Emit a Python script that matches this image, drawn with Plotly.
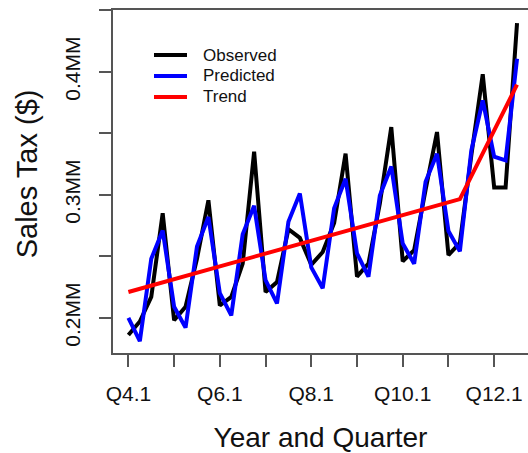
import plotly.graph_objects as go

# Quarterly periods, Q4.1 .. Q12.3
quarters = [f"Q{y}.{q}" for y in range(4, 13) for q in range(1, 5)][:35]

# Sales tax, in millions of dollars
observed = [0.186, 0.197, 0.217, 0.285, 0.198, 0.209, 0.248, 0.2955,
            0.210, 0.217, 0.244, 0.335, 0.221, 0.229, 0.272, 0.265,
            0.243, 0.2535, 0.277, 0.3335, 0.2335, 0.244, 0.293, 0.355,
            0.246, 0.255, 0.304, 0.351, 0.251, 0.261, 0.332, 0.398,
            0.306, 0.306, 0.4395]
predicted = [0.200, 0.181, 0.248, 0.271, 0.209, 0.192, 0.258, 0.282,
             0.220, 0.202, 0.268, 0.291, 0.2306, 0.2117, 0.278, 0.301,
             0.241, 0.224, 0.289, 0.313, 0.2524, 0.2335, 0.2995, 0.323,
             0.2604, 0.244, 0.3105, 0.3333, 0.2705, 0.254, 0.336, 0.3767,
             0.331, 0.328, 0.4105]

# Piecewise-linear trend (breakpoint at Q11.2)
trend_quarters = ["Q4.1", "Q11.2", "Q12.3"]
trend_values = [0.221, 0.2965, 0.3895]

# Axis ticks
x_tick_vals = ["Q4.1", "Q5.1", "Q6.1", "Q7.1", "Q8.1", "Q9.1", "Q10.1", "Q11.1", "Q12.1"]
x_tick_text = ["Q4.1", "", "Q6.1", "", "Q8.1", "", "Q10.1", "", "Q12.1"]
y_tick_vals = [0.20, 0.25, 0.30, 0.35, 0.40, 0.45]
y_tick_text = ["0.2MM", "", "0.3MM", "", "0.4MM", ""]

FONT = "Liberation Sans, Arial, sans-serif"
AXIS_COLOR = "#555555"
TEXT_COLOR = "#111111"

series = [
    ("Observed", quarters, observed, "black"),
    ("Predicted", quarters, predicted, "#0000ff"),
    ("Trend", trend_quarters, trend_values, "#ff0000"),
]

fig = go.Figure()
for name, xs, ys, color in series:
    fig.add_trace(go.Scatter(x=xs, y=ys, mode="lines", name=name,
                             line=dict(color=color, width=4), showlegend=False))

# Legend drawn in paper coordinates (compact row spacing)
leg_x0, leg_x1, leg_text_x = 0.0988, 0.1783, 0.2120
leg_rows = [0.8688, 0.8076, 0.7464]
shapes, annotations = [], []
for (name, _, _, color), ry in zip(series, leg_rows):
    shapes.append(dict(type="line", xref="paper", yref="paper",
                       x0=leg_x0, x1=leg_x1, y0=ry, y1=ry,
                       line=dict(color=color, width=4)))
    annotations.append(dict(xref="paper", yref="paper", x=leg_text_x, y=ry,
                            xanchor="left", yanchor="middle", showarrow=False,
                            text=name, font=dict(size=17, family=FONT, color=TEXT_COLOR)))

# Y-axis title
annotations.append(dict(xref="paper", yref="paper", x=-0.208, y=0.523,
                        xanchor="center", yanchor="middle", showarrow=False,
                        textangle=-90, text="Sales Tax ($)",
                        font=dict(size=29, family=FONT, color=TEXT_COLOR)))

fig.update_layout(
    width=528, height=453,
    margin=dict(l=113, r=0, t=10, b=100),
    paper_bgcolor="white", plot_bgcolor="white",
    font=dict(family=FONT, color=TEXT_COLOR),
    showlegend=False,
    shapes=shapes,
    annotations=annotations,
    xaxis=dict(
        type="category", categoryorder="array", categoryarray=quarters,
        range=[-1.347, 34.96],
        tickmode="array", tickvals=x_tick_vals, ticktext=x_tick_text,
        ticks="outside", ticklen=12, tickwidth=1.5, tickcolor=AXIS_COLOR,
        ticklabelstandoff=9,
        showline=True, linecolor=AXIS_COLOR, linewidth=1.5, mirror=True,
        showgrid=False, zeroline=False,
        tickfont=dict(size=21, family=FONT, color=TEXT_COLOR),
        title=dict(text="Year and Quarter", font=dict(size=28, family=FONT, color=TEXT_COLOR),
                   standoff=28),
    ),
    yaxis=dict(
        range=[0.1714, 0.4502],
        tickmode="array", tickvals=y_tick_vals, ticktext=y_tick_text,
        tickangle=-90,
        ticks="outside", ticklen=12, tickwidth=1.5, tickcolor=AXIS_COLOR,
        ticklabelstandoff=11,
        showline=True, linecolor=AXIS_COLOR, linewidth=1.5, mirror=False,
        showgrid=False, zeroline=False,
        tickfont=dict(size=21, family=FONT, color=TEXT_COLOR),
    ),
)

fig.write_html("out.html")
